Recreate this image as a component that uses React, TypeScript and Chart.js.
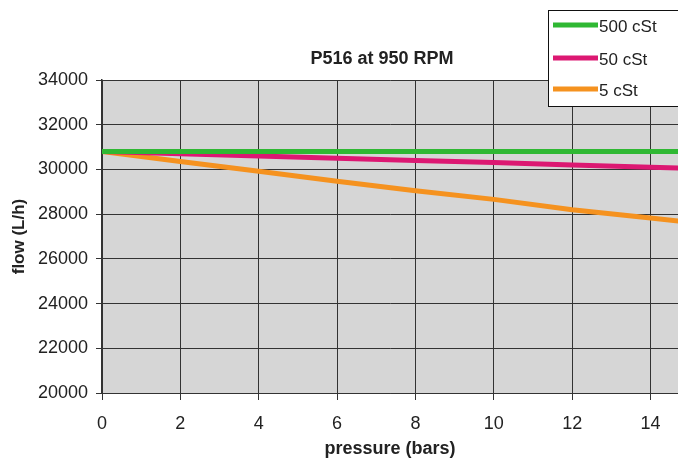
import React, { useEffect, useRef } from "react";
import { Chart, registerables } from "chart.js";

Chart.register(...registerables);

// ---- data ----
const pressureBars = [0, 2, 4, 6, 8, 10, 12, 14, 16];
const flow500cSt = [30800, 30800, 30800, 30800, 30800, 30800, 30800, 30800, 30800];
const flow50cSt = [30800, 30700, 30600, 30500, 30400, 30310, 30200, 30100, 30000];
const flow5cSt = [30800, 30350, 29920, 29470, 29050, 28660, 28200, 27830, 27440];
const seriesLabels = ["500 cSt", "50 cSt", "5 cSt"];
const seriesColors = ["#2fb833", "#dc1872", "#f5921f"];
const chartTitle = "P516 at 950 RPM";
const xTitle = "pressure (bars)";
const yTitle = "flow (L/h)";
const xMin = 0;
const xMax = 14.7;
const xStep = 2;
const yMin = 20000;
const yMax = 34000;
const yStep = 2000;

const FONT = "'Liberation Sans', Arial, sans-serif";
const TEXT = "#222";

const plotBackground = {
  id: "plotBackground",
  beforeDraw(chart: any) {
    const { ctx, chartArea } = chart;
    ctx.save();
    ctx.fillStyle = "#d6d6d6";
    ctx.fillRect(chartArea.left, chartArea.top, chartArea.right - chartArea.left, chartArea.bottom - chartArea.top);
    ctx.restore();
  },
};

const titleAndLegend = {
  id: "titleAndLegend",
  afterDraw(chart: any) {
    const { ctx } = chart;
    ctx.save();
    // title
    ctx.fillStyle = TEXT;
    ctx.font = `bold 18px ${FONT}`;
    ctx.textAlign = "center";
    ctx.textBaseline = "middle";
    ctx.fillText(chartTitle, 382, 59);
    // legend box
    const bx = 548.5, by = 10.5, bw = 140, bh = 96;
    ctx.fillStyle = "#ffffff";
    ctx.fillRect(bx, by, bw, bh);
    ctx.strokeStyle = "#111";
    ctx.lineWidth = 1;
    ctx.strokeRect(bx, by, bw, bh);
    const rowY = [25, 58, 89];
    chart.data.datasets.forEach((ds: any, i: number) => {
      ctx.strokeStyle = ds.borderColor;
      ctx.lineWidth = 5;
      ctx.lineCap = "butt";
      ctx.beginPath();
      ctx.moveTo(553, rowY[i]);
      ctx.lineTo(598, rowY[i]);
      ctx.stroke();
      ctx.fillStyle = TEXT;
      ctx.font = `17px ${FONT}`;
      ctx.textAlign = "left";
      ctx.textBaseline = "middle";
      ctx.fillText(ds.label, 599, rowY[i] + 2);
    });
    ctx.restore();
  },
};

export default function App() {
  const canvasRef = useRef<HTMLCanvasElement | null>(null);

  useEffect(() => {
    if (!canvasRef.current) return;
    const series = [flow500cSt, flow50cSt, flow5cSt];
    const chart = new Chart(canvasRef.current, {
      type: "line",
      data: {
        datasets: series.map((vals, i) => ({
          label: seriesLabels[i],
          data: pressureBars.map((p, j) => ({ x: p, y: vals[j] })),
          borderColor: seriesColors[i],
          backgroundColor: seriesColors[i],
          borderWidth: 5,
          pointRadius: 0,
          tension: 0,
          fill: false,
        })),
      },
      options: {
        animation: false,
        responsive: false,
        devicePixelRatio: 1,
        layout: { padding: { top: 80, right: 0, bottom: 0, left: 0 } },
        plugins: {
          legend: { display: false },
          title: { display: false },
          tooltip: { enabled: false },
        },
        scales: {
          x: {
            type: "linear",
            min: xMin,
            max: xMax,
            afterFit: (scale: any) => {
              scale.height = 65;
            },
            ticks: {
              stepSize: xStep,
              includeBounds: false,
              color: TEXT,
              font: { family: FONT, size: 18 },
              padding: 13,
              maxRotation: 0,
              callback: (v: any) => String(v),
            },
            grid: {
              color: "#333",
              lineWidth: 1,
              tickLength: 7,
              drawTicks: true,
            },
            border: { color: "#333", width: 1 },
            title: {
              display: true,
              text: xTitle,
              color: TEXT,
              font: { family: FONT, size: 18, weight: "bold" },
              padding: { top: 0, bottom: -2 },
            },
          },
          y: {
            type: "linear",
            min: yMin,
            max: yMax,
            afterFit: (scale: any) => {
              scale.width = 102;
            },
            ticks: {
              stepSize: yStep,
              color: TEXT,
              font: { family: FONT, size: 18 },
              padding: 8,
              callback: (v: any) => String(v),
            },
            grid: {
              color: "#333",
              lineWidth: 1,
              tickLength: 6,
              drawTicks: true,
            },
            border: { color: "#333", width: 1.5 },
            title: {
              display: true,
              text: yTitle,
              color: TEXT,
              font: { family: FONT, size: 17, weight: "bold" },
              padding: { top: 9, bottom: 0 },
            },
          },
        },
      },
      plugins: [plotBackground, titleAndLegend],
    });
    return () => chart.destroy();
  }, []);

  return (
    <div style={{ position: "absolute", left: 0, top: 0, width: 678, height: 458, background: "#fff" }}>
      <canvas ref={canvasRef} width={678} height={458} style={{ display: "block" }} />
    </div>
  );
}
